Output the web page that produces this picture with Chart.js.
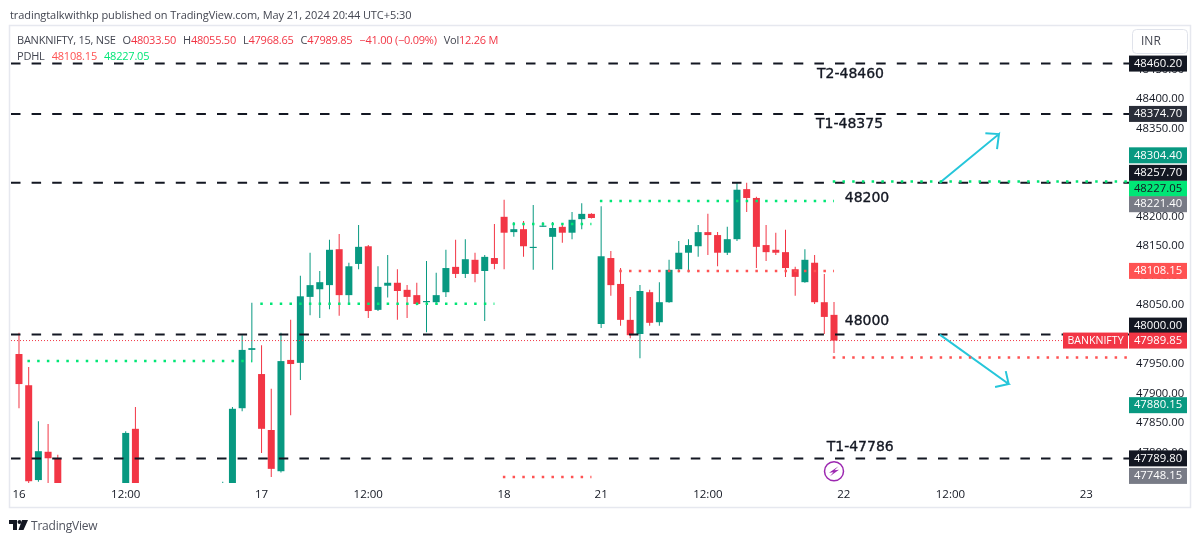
<!DOCTYPE html>
<html>
<head>
<meta charset="utf-8">
<title>BANKNIFTY 15</title>
<script src="https://cdn.jsdelivr.net/npm/chart.js@4"></script>
<style>
    html, body { margin: 0; padding: 0; background: #fff; overflow: hidden; }
    #wrap { position: relative; width: 1200px; height: 542px; font-family: "Open Sans", sans-serif; color: #434651; }
    #wrap div { position: absolute; white-space: nowrap; }
    #pub { left: 10px; top: 7px; font-size: 11px; letter-spacing: -0.07px; }
    #leg1 { left: 17px; top: 32px; font-size: 11px; letter-spacing: -0.23px; }
    #leg2 { left: 17px; top: 48px; font-size: 11px; letter-spacing: -0.2px; }
    .r { color: #f23645; }
    .lo { color: #ff5252; }
    .hi { color: #00e676; }
    .gap { margin-left: 7px; }
    #brand { left: 31px; top: 517px; font-size: 12px; letter-spacing: -0.2px; color: #50535e; }
    #logo { position: absolute; left: 9px; top: 520px; }
</style>
</head>
<body>
<div id="wrap">
    <canvas id="myChart" width="1200" height="542"></canvas>
    <div id="pub">tradingtalkwithkp published on TradingView.com, May 21, 2024 20:44 UTC+5:30</div>
    <div id="leg1">BANKNIFTY, 15, NSE<span class="gap">O</span><span class="r">48033.50</span><span class="gap">H</span><span class="r">48055.50</span><span class="gap">L</span><span class="r">47968.65</span><span class="gap">C</span><span class="r">47989.85</span><span class="r gap">−41.00 (−0.09%)</span><span class="gap">Vol</span><span class="r">12.26 M</span></div>
    <div id="leg2">PDHL<span class="lo gap">48108.15</span><span class="hi gap">48227.05</span></div>
    <svg id="logo" width="19" height="10" viewBox="0 0 19 10"><path fill="#131722" d="M0 0h8v10H4V4H0zM13 0h6l-4.500 10H9.500z"/><circle cx="10.500" cy="2" r="2" fill="#131722"/></svg>
    <div id="brand">TradingView</div>
</div>
<script>
// candles, one slot per 15 min bar. null = bar sits below the visible pane
const opens = [47967, 47914, 47753, 47801, 47789, null, null, null, null, null,
    null, 47720, 47840, null, null, null, null, null, null, null,
    null, 47700, 47700, 47875, 47974, 47933, 47838, 47768, 47957, 47952,
    48064, 48077, 48084, 48145, 48067, 48120, 48150, 48042, 48083, 48088,
    48076, 48067, 48055, 48055, 48072, 48115, 48103, 48127, 48108, 48130,
    48200, 48174, 48179, 48147, 48183, 48166, 48183, 48173, 48196, 48205,
    48018, 48130, 48086, 48025, 48001, 48072, 48021, 48055, 48111, 48139,
    48150, 48174, 48169, 48139, 48162, 48247, 48232, 48152, 48144, 48140,
    48111, 48089, 48122, 48055, 48033.5];
const highs = [48003, 47945, 47853, 47848, 47796, null, null, null, null, null,
    null, 47836, 47877, null, null, null, null, null, null, null,
    null, 47750, 47877, 47999, 48054, 47982, 47908, 48003, 48025, 48100,
    48139, 48108, 48161, 48171, 48122, 48186, 48152, 48116, 48135, 48111,
    48084, 48088, 48125, 48105, 48144, 48161, 48162, 48139, 48135, 48188,
    48229, 48191, 48193, 48220, 48191, 48191, 48188, 48208, 48223, 48206,
    48218, 48142, 48113, 48064, 48084, 48076, 48089, 48127, 48159, 48162,
    48186, 48205, 48174, 48183, 48258, 48258, 48234, 48186, 48173, 48178,
    48115, 48145, 48135, 48103, 48055.5];
const lows = [47875, 47745, 47750, 47745, 47720, null, null, null, null, null,
    null, 47710, 47690, null, null, null, null, null, null, null,
    null, 47690, 47690, 47870, 47953, 47799, 47758, 47766, 47863, 47923,
    48033, 48028, 48043, 48032, 48052, 48111, 48028, 48040, 48063, 48025,
    48028, 48050, 48004, 48052, 48064, 48096, 48096, 48089, 48023, 48111,
    48111, 48166, 48132, 48110, 48183, 48110, 48156, 48162, 48179, 48197,
    48011, 48066, 48015, 47994, 47960, 48015, 48015, 48054, 48106, 48106,
    48132, 48135, 48116, 48135, 48159, 48208, 48113, 48125, 48135, 48098,
    48066, 48088, 48052, 48001, 47968.65];
const closes = [47916, 47751, 47802, 47790, 47730, null, null, null, null, null,
    null, 47833, 47700, null, null, null, null, null, null, null,
    null, 47720, 47874, 47974, 47977, 47840, 47772, 47955, 47950, 48065,
    48084, 48089, 48144, 48067, 48116, 48149, 48040, 48081, 48088, 48074,
    48064, 48052, 48057, 48067, 48113, 48103, 48128, 48103, 48132, 48120,
    48173, 48179, 48150, 48149, 48185, 48181, 48173, 48195, 48205, 48198,
    48133, 48084, 48025, 47999, 48074, 48020, 48055, 48110, 48139, 48152,
    48174, 48169, 48139, 48162, 48246, 48232, 48149, 48140, 48139, 48113,
    48098, 48127, 48055, 48030, 47989.85];

// x axis labels sit on bar slots
const tickSlots = [0, 11, 25, 36, 50, 60, 71, 85, 96, 110];
const tickLabels = ["16", "12:00", "17", "12:00", "18", "21", "12:00", "22", "12:00", "23"];

// horizontal drawings
const dashedLevels = [48460.2, 48374.7, 48257.7, 48000, 47789.8];

// previous day high / low dotted steps
const highFrom = [1, 25, 51, 60, 84];
const highTo = [24, 49, 59, 84, 114.4];
const highValues = [47955, 48052.5, 48188, 48227.05, 48260];
const lowFrom = [50, 62, 84];
const lowTo = [59, 84, 114.2];
const lowValues = [47758, 48108.15, 47961];

const lastPrice = 47989.85;

// cyan arrows drawn on the chart
const arrowUpSlots = [99.6, 101, 100.8, 101, 94.9];
const arrowUpPrices = [48342, 48340.5, 48315, 48340.5, 48258];
const arrowDownSlots = [101.7, 102, 100.6, 102, 94.9];
const arrowDownPrices = [47938, 47916, 47911, 47916, 48000];

// handwritten notes
const noteTexts = ["T2-48460", "T1-48375", "48200", "48000", "T1-47786"];
const noteSlots = [85.7, 85.6, 87.4, 87.4, 86.7];
const notePrices = [48442, 48357, 48231, 48023, 47809];

// price axis badges, badgeShift = px the app pushed a badge to stop overlaps
const badgeValues = [48460.2, 48374.7, 48304.4, 48257.7, 48227.05, 48221.4, 48108.15, 48000, 47989.85, 47880.15, 47789.8, 47748.15];
const badgeColors = ["#131722", "#2a2e39", "#089981", "#131722", "#00e676", "#787b86", "#ff5252", "#131722", "#f23645", "#089981", "#131722", "#787b86"];
const badgeShift = [0, 0, 0, -10, -12, 0, 0, -9, 0, 0, 0, -7];

// lightning marker, sits under the last bar
const markerSlot = 84;
const markerPrice = 47768;

const GREEN = "#089981";
const RED = "#f23645";
const viewFrom = -0.823;
const viewTo = 114.403;

const slots = opens.map((o, i) => i).filter(i => opens[i] !== null);
const candleColors = slots.map(i => closes[i] >= opens[i] ? GREEN : RED);

function flat(value, from, to) {
    return [{ x: from, y: value }, { x: to, y: value }];
}

function dottedSet(value, from, to, color) {
    return {
        type: "line",
        data: flat(value, from - 0.13, to),
        borderColor: color,
        borderWidth: 2.5,
        borderDash: [2.5, 7.22],
        pointRadius: 0,
        order: 0,
    };
}

const datasets = [{
    // bodies
    data: slots.map(i => ({ x: i, y: [opens[i], closes[i]] })),
    backgroundColor: candleColors,
    barThickness: 7,
    grouped: false,
    order: 3,
}, {
    // wicks
    data: slots.map(i => ({ x: i, y: [lows[i], highs[i]] })),
    backgroundColor: candleColors,
    barThickness: 1,
    grouped: false,
    order: 4,
}];

dashedLevels.forEach(v => {
    datasets.push({
        type: "line",
        data: flat(v, viewFrom, viewTo),
        borderColor: "#131722",
        borderWidth: 2,
        borderDash: [9.5, 11.1],
        pointRadius: 0,
        order: 1,
    });
});

highValues.forEach((v, i) => datasets.push(dottedSet(v, highFrom[i], highTo[i], "#00e676")));
lowValues.forEach((v, i) => datasets.push(dottedSet(v, lowFrom[i], lowTo[i], "#ff5252")));

datasets.push({
    type: "line",
    data: flat(lastPrice, viewFrom, 107.5),
    borderColor: "#f23645",
    borderWidth: 1,
    borderDash: [1, 2],
    pointRadius: 0,
    order: 2,
});

[[arrowUpSlots, arrowUpPrices], [arrowDownSlots, arrowDownPrices]].forEach(a => {
    datasets.push({
        type: "line",
        data: a[0].map((x, i) => ({ x: x, y: a[1][i] })),
        borderColor: "#26c6da",
        borderWidth: 2,
        pointRadius: 0,
        order: 0,
    });
});

datasets.push({
    type: "line",
    data: [{ x: markerSlot, y: markerPrice }],
    showLine: false,
    pointStyle: "circle",
    pointRadius: 9.5,
    pointBorderWidth: 1.5,
    pointBorderColor: "#9c27b0",
    pointBackgroundColor: "#fff",
    order: 0,
});

const extras = {
    id: "extras",
    beforeDraw(chart) {
        const c = chart.ctx;
        c.save();
        c.strokeStyle = "#e6e8ef";
        c.lineWidth = 1.5;
        c.strokeRect(9.5, 25.5, 1181, 482);
        c.restore();
    },
    afterDraw(chart) {
        const c = chart.ctx;
        const xs = chart.scales.x;
        const ys = chart.scales.y;
        const right = chart.chartArea.right;
        c.save();

        // notes
        c.fillStyle = "#131722";
        c.strokeStyle = "#131722";
        c.lineWidth = 0.35;
        c.font = "14px 'DejaVu Sans'";
        c.textAlign = "center";
        c.textBaseline = "middle";
        noteTexts.forEach((t, i) => {
            const nx = xs.getPixelForValue(noteSlots[i]);
            const ny = ys.getPixelForValue(notePrices[i]);
            c.fillText(t, nx, ny);
            c.strokeText(t, nx, ny);
        });

        // bolt inside the marker
        const bx = xs.getPixelForValue(markerSlot);
        const by = ys.getPixelForValue(markerPrice);
        c.fillStyle = "#9c27b0";
        c.beginPath();
        c.moveTo(bx + 4.5, by - 5);
        c.lineTo(bx - 5, by + 1.5);
        c.lineTo(bx - 0.5, by + 1);
        c.lineTo(bx - 4, by + 5);
        c.lineTo(bx + 5, by - 1.5);
        c.lineTo(bx + 0.5, by - 1);
        c.closePath();
        c.fill();

        // badges
        c.font = "11.3px 'Open Sans'";
        badgeValues.forEach((v, i) => {
            const y = ys.getPixelForValue(v) + badgeShift[i];
            c.fillStyle = badgeColors[i];
            c.fillRect(right, y - 8, 58, 16);
            c.fillStyle = badgeColors[i] === "#00e676" ? "#131722" : "#fff";
            c.fillText(v.toFixed(2), right + 29, y);
        });

        // name tag next to the last price
        const ly = ys.getPixelForValue(lastPrice);
        c.fillStyle = RED;
        c.fillRect(right - 66, ly - 8, 65, 16);
        c.fillStyle = "#fff";
        c.font = "10.6px 'Open Sans'";
        c.fillText("BANKNIFTY", right - 33.5, ly);

        // currency button
        c.fillStyle = "#fff";
        c.strokeStyle = "#e0e3eb";
        c.lineWidth = 1;
        c.beginPath();
        c.roundRect(1132.5, 29.5, 55, 24, 4);
        c.fill();
        c.stroke();
        c.fillStyle = "#434651";
        c.textAlign = "left";
        c.font = "12px 'Open Sans'";
        c.fillText("INR", 1141, 42);
        c.restore();
    },
};

new Chart(document.getElementById("myChart"), {
    type: "bar",
    data: { datasets: datasets },
    plugins: [extras],
    options: {
        responsive: false,
        animation: false,
        layout: { padding: { left: 9, top: 26, right: 9, bottom: 34 } },
        plugins: { legend: { display: false }, tooltip: { enabled: false } },
        datasets: { bar: { borderWidth: 0, inflateAmount: 0 } },
        scales: {
            x: {
                type: "linear",
                offset: false,
                min: viewFrom,
                max: viewTo,
                grid: { display: false, drawTicks: false },
                border: { display: false },
                afterBuildTicks(scale) {
                    scale.ticks = tickSlots.map(v => ({ value: v }));
                },
                afterFit(scale) { scale.height = 25; },
                ticks: {
                    autoSkip: false,
                    maxRotation: 0,
                    padding: 5,
                    color: "#131722",
                    font: { family: "Open Sans", size: 11.5 },
                    callback(value) { return tickLabels[tickSlots.indexOf(value)]; },
                },
            },
            y: {
                position: "right",
                min: 47748,
                max: 48524,
                grid: { display: false, drawTicks: false },
                border: { display: false },
                afterFit(scale) { scale.width = 62; },
                ticks: {
                    stepSize: 50,
                    padding: 7,
                    color: "#131722",
                    font: { family: "Open Sans", size: 11.3 },
                    callback(value) { return value % 50 === 0 ? value.toFixed(2) : ""; },
                },
            },
        },
    },
});
</script>
</body>
</html>
